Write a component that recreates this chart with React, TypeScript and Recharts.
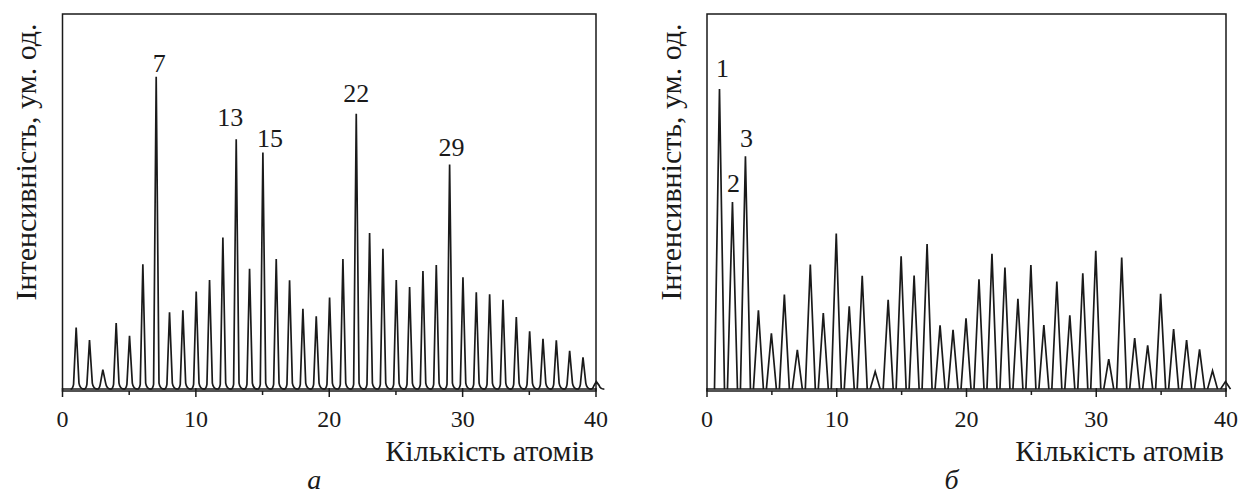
import { BarChart, Bar, XAxis, YAxis, ReferenceLine, ReferenceArea, LabelList, Label } from "recharts";

// кількість атомів у кластері (категорії по осі X)
const atoms = [
  1, 2, 3, 4, 5, 6, 7, 8, 9, 10, 11, 12, 13, 14, 15, 16, 17, 18, 19, 20,
  21, 22, 23, 24, 25, 26, 27, 28, 29, 30, 31, 32, 33, 34, 35, 36, 37, 38, 39, 40,
];

// висоти піків, ум. од. (0..100 = висота рамки)
const intensityA = [
  16.4, 13.1, 5.2, 17.6, 14.2, 33.3, 83.3, 20.5, 21.0, 26.0,
  29.1, 40.4, 66.6, 32.1, 63.1, 34.7, 29.0, 21.4, 19.4, 24.4,
  34.7, 73.4, 41.6, 37.4, 29.1, 27.2, 31.5, 33.1, 59.9, 29.8,
  25.8, 25.3, 23.8, 19.2, 15.4, 13.4, 13.0, 10.2, 8.5, 2.0,
];
const intensityB = [
  80.0, 49.9, 62.1, 21.0, 14.9, 25.2, 10.5, 33.2, 20.3, 41.5,
  22.1, 30.2, 4.7, 23.8, 35.4, 30.3, 38.7, 17.0, 15.8, 18.9,
  29.3, 36.1, 32.4, 24.1, 33.1, 17.1, 28.7, 19.7, 30.9, 36.9,
  8.0, 35.1, 13.6, 11.7, 25.4, 16.0, 13.1, 10.6, 4.9, 2.0,
];

const xTicks = [0, 5, 10, 15, 20, 25, 30, 35, 40];
const markedA = [7, 13, 15, 22, 29];
const markedB = [1, 2, 3];

const yTitle = "Інтенсивність, ум. од.";
const xTitle = "Кількість атомів";

// зсув підпису над піком: [dx, відступ над вершиною]
const nudgeA: Record<number, number[]> = { 7: [3, 5], 13: [-6, 13], 15: [7, 5], 22: [0, 12], 29: [2, 8] };
const nudgeB: Record<number, number[]> = { 1: [3, 12], 2: [1, 10], 3: [1, 9] };

const INK = "#1a1a1a";
const FONT = '"Liberation Serif", "Times New Roman", serif';

const dataA = atoms.map((atom, i) => ({ atom, h: intensityA[i] }));
const dataB = atoms.map((atom, i) => ({ atom, h: intensityB[i] }));

function AxisTick(props: any) {
  const { x, y, payload } = props;
  const major = payload.value % 10 === 0;
  return (
    <g>
      <line x1={x} x2={x} y1={y - (major ? 3 : 0)} y2={y + (major ? 6 : 4)} stroke={INK} strokeWidth={1.5} />
      {major && (
        <text x={x} y={y + 36} textAnchor="middle" fontSize={24} fontFamily={FONT} fill={INK}>
          {payload.value}
        </text>
      )}
    </g>
  );
}

// пік з плавним хвостом (панель а)
function SmoothPeak(props: any) {
  const { x, y, width, height } = props;
  const cx = x + width / 2;
  const base = y + height;
  const t = Math.min(6, height * 0.5);
  const d = `M${cx - 5.5},${base} Q${cx - 3.5},${base} ${cx - 2.6},${base - t * 0.8} L${cx},${y} L${cx + 2.8},${base - t} Q${cx + 3.8},${base} ${cx + 8},${base}`;
  return <path d={d} fill="none" stroke={INK} strokeWidth={1.7} strokeLinejoin="miter" />;
}

// трикутний пік (панель б)
function SharpPeak(props: any) {
  const { x, y, width, height } = props;
  const cx = x + width / 2;
  const base = y + height;
  const d = `M${cx - 5},${base} L${cx},${y} L${cx + 5},${base}`;
  return <path d={d} fill="none" stroke={INK} strokeWidth={1.7} />;
}

const peakLabel = (marked: number[], nudge: Record<number, number[]>) => (props: any) => {
  const { x, y, width, value } = props;
  if (!marked.includes(value)) return null;
  const [dx, gap] = nudge[value] ?? [0, 6];
  return (
    <text x={x + width / 2 + dx} y={y - gap} textAnchor="middle" fontSize={26} fontFamily={FONT} fill={INK}>
      {value}
    </text>
  );
};

function Panel({ data, marked, nudge, letter, left, margin, shape }: any) {
  return (
    <div style={{ position: "absolute", left, top: 0 }}>
      <BarChart width={620} height={497} data={data} margin={margin}>
        <XAxis
          type="number"
          dataKey="atom"
          domain={[0, 40]}
          ticks={xTicks}
          interval={0}
          height={30}
          tickSize={0}
          tickMargin={0}
          tickLine={false}
          axisLine={false}
          tick={<AxisTick />}
        >
          <Label
            content={(p: any) => {
              const vb = p.viewBox;
              return (
                <g fontFamily={FONT} fill={INK}>
                  <text x={vb.x + vb.width - 2} y={vb.y + 70} textAnchor="end" fontSize={30}>{xTitle}</text>
                  <text x={vb.x + vb.width / 2 - 15} y={vb.y + 98} textAnchor="middle" fontSize={28} fontStyle="italic">
                    {letter}
                  </text>
                </g>
              );
            }}
          />
        </XAxis>
        <YAxis type="number" domain={[-0.5, 100]} width={10} tick={false} tickLine={false} axisLine={false}>
          <Label
            content={(p: any) => {
              const vb = p.viewBox;
              const tx = vb.x + vb.width - 37;
              const ty = vb.y + 148;
              return (
                <text
                  x={tx}
                  y={ty}
                  transform={`rotate(-90, ${tx}, ${ty})`}
                  textAnchor="middle"
                  dominantBaseline="central"
                  fontSize={30}
                  fontFamily={FONT}
                  fill={INK}
                >
                  {yTitle}
                </text>
              );
            }}
          />
        </YAxis>
        <ReferenceLine y={0} stroke={INK} strokeWidth={1.5} />
        <Bar dataKey="h" barSize={10} shape={shape} isAnimationActive={false}>
          <LabelList dataKey="atom" content={peakLabel(marked, nudge)} />
        </Bar>
        <ReferenceArea x1={0} x2={40} y1={-0.5} y2={100} fill="none" stroke={INK} strokeWidth={1.5} />
      </BarChart>
    </div>
  );
}

export default function App() {
  return (
    <div style={{ position: "absolute", left: 0, top: 0, width: 1240, height: 497, background: "#fff" }}>
      <Panel
        data={dataA}
        marked={markedA}
        nudge={nudgeA}
        letter="а"
        left={0}
        margin={{ top: 14, left: 52.5, right: 24, bottom: 76 }}
        shape={SmoothPeak}
      />
      <Panel
        data={dataB}
        marked={markedB}
        nudge={nudgeB}
        letter="б"
        left={620}
        margin={{ top: 14, left: 77, right: 14, bottom: 76 }}
        shape={SharpPeak}
      />
    </div>
  );
}
